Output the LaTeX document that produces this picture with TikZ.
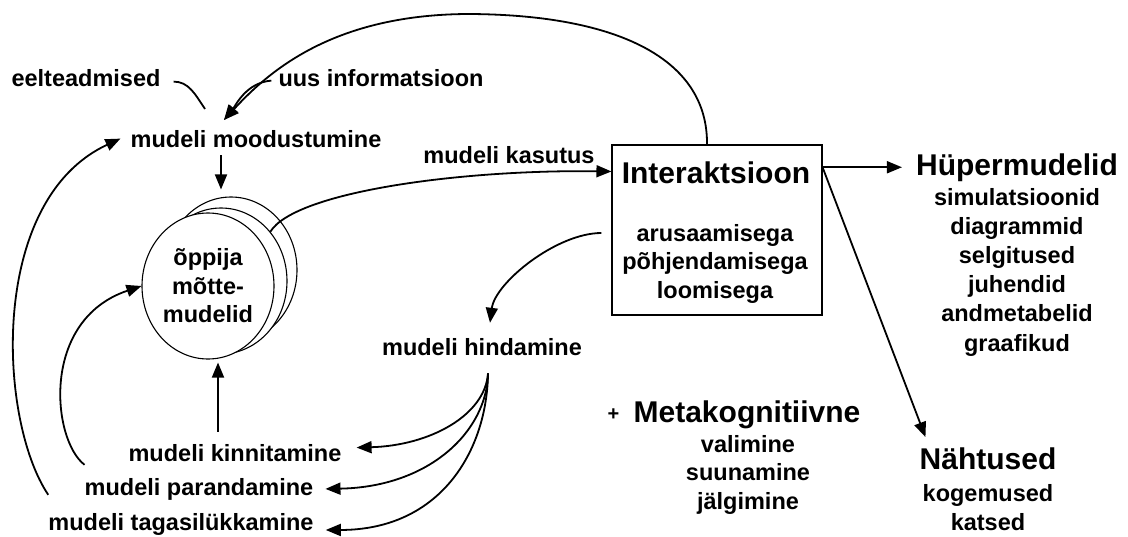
\documentclass[tikz,border=0pt]{standalone}
\usepackage{fontspec}
\setmainfont{Liberation Sans}
\usetikzlibrary{positioning,arrows.meta,shapes.geometric}
\tikzset{lbl/.style={font=\fontsize{23.5}{28.5}\selectfont\bfseries,inner sep=0pt,align=center},
         ttl/.style={font=\fontsize{30}{34}\selectfont\bfseries,inner sep=0pt},
         link/.style={line width=1.8pt},
         arr/.style={line width=1.8pt,-{Triangle[length=15pt,width=12pt]}},
         blob/.style={ellipse,draw,line width=1.1pt,fill=white,minimum width=132pt,minimum height=146pt,inner sep=0pt}}

\begin{document}
\begin{tikzpicture}[x=1pt,y=-1pt]
            \useasboundingbox (0,0) rectangle (1128,536);
            % the learner's mental models
            \node[blob] (back1) at (231,270) {};
            \node[blob] (back2) at (221,281) {};
            \node[blob,lbl] (mind) at (208,286) {õppija\\mõtte-\\mudelid};

            \node[lbl,anchor=base] (eel) at (86,86) {eelteadmised};
            \node[lbl,anchor=base] (uus) at (381,86) {uus informatsioon};
            \node[lbl,anchor=base] (mood) at (256,147) {mudeli moodustumine};
            \node[lbl,anchor=base] (kas) at (509,163) {mudeli kasutus};
            \node[lbl,anchor=base] (hind) at (482,355) {mudeli hindamine};
            \node[lbl,anchor=base] (kinn) at (235,461) {mudeli kinnitamine};
            \node[lbl,anchor=base] (par) at (199,495) {mudeli parandamine};
            \node[lbl,anchor=base] (tag) at (181,530) {mudeli tagasilükkamine};

            % interaction box
            \node[draw,line width=1.1pt,minimum width=210pt,minimum height=170pt] (box) at (717,230) {};
            \node[ttl,anchor=base] (inter) at (716,183) {Interaktsioon};
            \node[lbl,anchor=base] (viis) at (715,298) {arusaamisega\\põhjendamisega\\loomisega};

            \node[ttl,anchor=base] (hyp) at (1017,175) {Hüpermudelid};
            \node[lbl,anchor=base,font=\fontsize{23.5}{29.2}\selectfont\bfseries] (hyplist) at (1017,351)
                {simulatsioonid\\diagrammid\\selgitused\\juhendid\\andmetabelid\\graafikud};
            \node[ttl,anchor=base] (meta) at (747,422) {Metakognitiivne};
            \node[lbl,font=\fontsize{20}{24}\selectfont\bfseries] (plus) [left=14pt of meta] {+};
            \node[lbl,anchor=base] (metalist) at (748,509) {valimine\\suunamine\\jälgimine};
            \node[ttl,anchor=base] (naht) at (988,469) {Nähtused};
            \node[lbl,anchor=base] (nahtlist) at (988,530) {kogemused\\katsed};

            \coordinate (in) at (224,120);
            \coordinate (eelend) at (205,109);

            % inputs to model forming
            \draw[link] ([xshift=13pt,yshift=-4pt]eel.east) .. controls +(15,0) and +(-10,-15) .. (eelend);
            \draw[arr] ([xshift=-7pt,yshift=-3pt]uus.west) .. controls +(-25,2) and +(12,-15) .. (in);
            \draw[arr] ([xshift=-10pt]box.north) .. controls (708,60) and (620,15) .. (470,14)
                       .. controls (335,14) and (270,70) .. (in);
            \draw[arr,shorten <=8pt,shorten >=18pt] (mood.south -| back2.north) -- (back2.north);

            % feedback loops
            \draw[arr] ([yshift=18pt]tag.north west) .. controls (-2,420) and (-12,200) .. ([xshift=-10pt]mood.west);
            \draw[arr] ([yshift=13pt]par.north west) .. controls (52,440) and (40,320) .. (mind.west);
            \draw[arr,shorten <=12pt,shorten >=3pt] ([xshift=10pt]mind.south |- kinn.north) -- ([xshift=10pt]mind.south);

            % use and evaluation
            \draw[arr] (back2.45) .. controls +(25,-40) and +(-150,-2) .. ([yshift=-27pt]box.north west);
            \draw[arr] ([xshift=-10pt,yshift=-3pt]box.west) .. controls +(-45,0) and +(5,-40) .. ([xshift=8pt,yshift=15pt]hind.north);
            \draw[arr] ([xshift=6pt,yshift=-18pt]hind.south) .. controls +(-3,42) and +(73,-2) .. ([xshift=15pt,yshift=5pt]kinn.east);
            \draw[arr] ([xshift=6pt,yshift=-18pt]hind.south) .. controls +(-1,57) and +(105,-2) .. ([xshift=12pt]par.east);
            \draw[arr] ([xshift=6pt,yshift=-18pt]hind.south) .. controls +(-1,77) and +(115,0) .. ([xshift=12pt,yshift=-6pt]tag.east);

            % outputs
            \draw[arr] (box.east |- hyp.west) -- ([xshift=-14pt]hyp.west);
            \draw[arr] (box.east |- hyp.west) -- ([xshift=6pt,yshift=10pt]naht.north west);
        \end{tikzpicture}
\end{document}
